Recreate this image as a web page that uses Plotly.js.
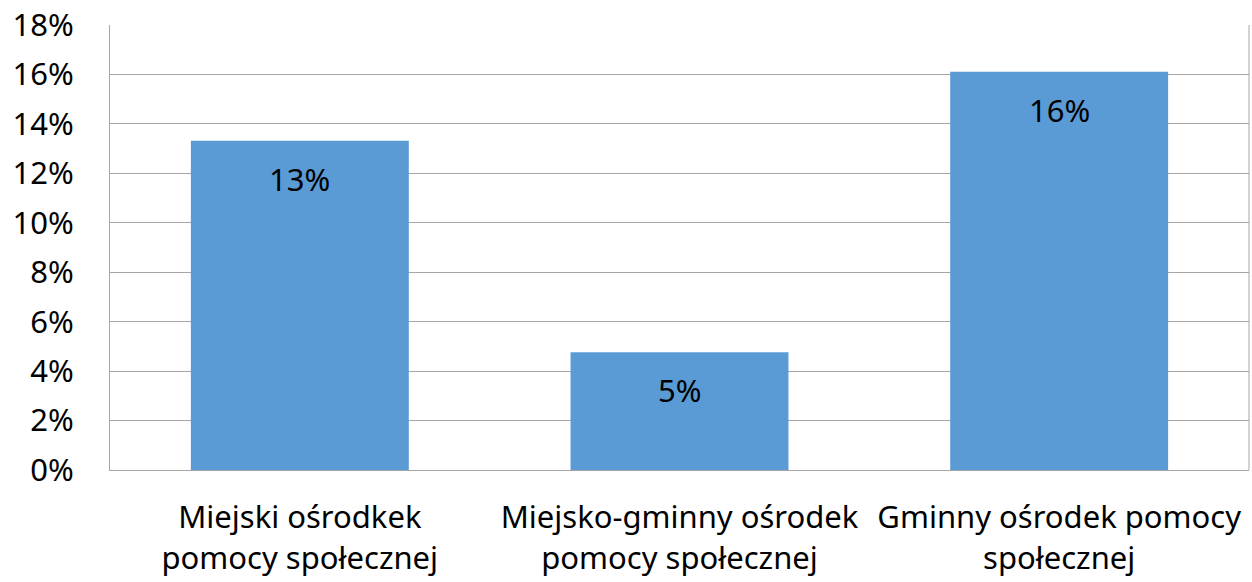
<!DOCTYPE html>
<html><head><meta charset="utf-8">
<script src="https://cdn.plot.ly/plotly-3.0.1.min.js"></script>
<style>html,body{margin:0;padding:0;background:#fff}#chart{width:1252px;height:582px}</style>
</head><body><div id="chart"></div>
<script>
const categories = ["Miejski ośrodkek<br>pomocy społecznej", "Miejsko-gminny ośrodek<br>pomocy społecznej", "Gminny ośrodek pomocy<br>społecznej"];
const values = [0.1332, 0.0476, 0.1611];
const yTickVals = [0,0.02,0.04,0.06,0.08,0.10,0.12,0.14,0.16,0.18];
const yTickText = ["0%","2%","4%","6%","8%","10%","12%","14%","16%","18%"];
const FONT = "Noto Sans, Open Sans, sans-serif";
const trace = {type:'bar', x: categories, y: values, marker:{color:'#5B9BD5'}, hoverinfo:'none'};
const annotations = values.map((v,i)=>({x:categories[i], y:v, xref:'x', yref:'y', text: Math.round(v*100)+'%', showarrow:false, yanchor:'top', yshift:-15, font:{family:FONT,size:31,color:'#000'}}));
const layout = {
  width:1252, height:582, margin:{l:110,r:3,t:25,b:112},
  paper_bgcolor:'#fff', plot_bgcolor:'#fff', showlegend:false, bargap:0.426,
  font:{family:FONT, color:'#000'},
  xaxis:{showgrid:false, showline:true, linecolor:'#A6A6A6', linewidth:1, tickfont:{size:31,family:FONT}, ticks:'', ticklabelstandoff:20, mirror:false},
  yaxis:{range:[0,0.18], tickvals:yTickVals, ticktext:yTickText, showgrid:true, gridcolor:'#A6A6A6', gridwidth:1, showline:true, linecolor:'#A6A6A6', linewidth:1, zeroline:false, tickfont:{size:31,family:FONT}, ticks:'', ticklabelstandoff:29},
  shapes:[{type:'line', xref:'paper', yref:'paper', x0:1, x1:1, y0:0, y1:1, line:{color:'#A6A6A6', width:1}}],
  annotations: annotations
};
Plotly.newPlot('chart',[trace],layout,{displayModeBar:false,staticPlot:true});
</script></body></html>
